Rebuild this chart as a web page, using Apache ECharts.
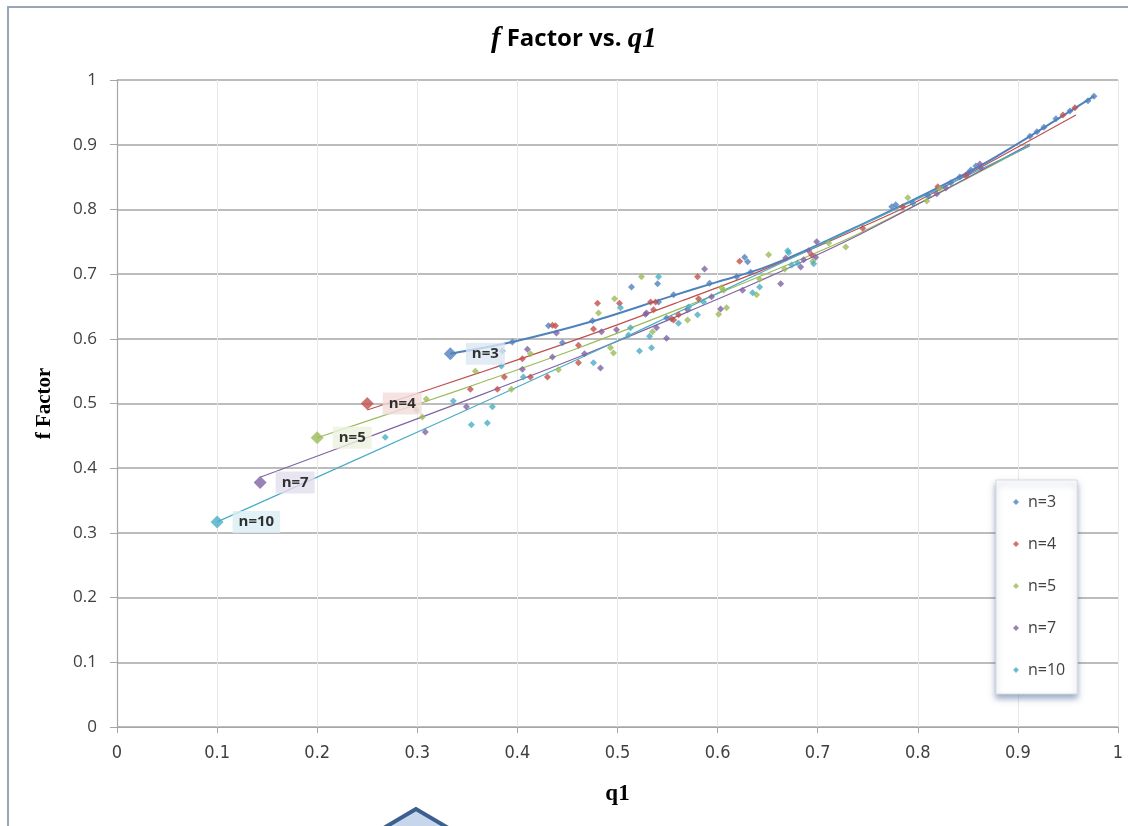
<!DOCTYPE html>
<html>
<head>
<meta charset="utf-8">
<title>f Factor vs. q1</title>
<script src="https://cdn.jsdelivr.net/npm/echarts@6/dist/echarts.min.js"></script>
<style>
  html, body { margin: 0; padding: 0; background: #fff; }
  #chart { width: 1128px; height: 826px; }
</style>
</head>
<body>
<div id="chart"></div>
<script>
// series names (legend order)
const seriesNames = ['n=3', 'n=4', 'n=5', 'n=7', 'n=10'];

// tick labels
const xTickLabels = ['0', '0.1', '0.2', '0.3', '0.4', '0.5', '0.6', '0.7', '0.8', '0.9', '1'];
const yTickLabels = ['0', '0.1', '0.2', '0.3', '0.4', '0.5', '0.6', '0.7', '0.8', '0.9', '1'];

// scatter points [q1, f]
const pointsN3 = [
  [0.385, 0.581], [0.395, 0.595], [0.431, 0.620], [0.445, 0.594], [0.475, 0.628],
  [0.514, 0.680], [0.540, 0.685], [0.541, 0.657], [0.549, 0.632], [0.556, 0.668],
  [0.592, 0.686], [0.619, 0.696], [0.627, 0.726], [0.630, 0.719], [0.633, 0.703],
  [0.774, 0.804], [0.778, 0.807], [0.795, 0.810], [0.810, 0.821], [0.833, 0.841],
  [0.842, 0.850], [0.853, 0.861], [0.858, 0.867], [0.912, 0.913], [0.919, 0.920],
  [0.926, 0.927], [0.938, 0.940], [0.952, 0.952], [0.970, 0.968], [0.976, 0.975]
];
const pointsN4 = [
  [0.353, 0.522], [0.380, 0.522], [0.387, 0.541], [0.405, 0.569], [0.413, 0.541],
  [0.430, 0.541], [0.435, 0.621], [0.438, 0.620], [0.461, 0.590], [0.461, 0.563],
  [0.476, 0.615], [0.480, 0.655], [0.502, 0.655], [0.533, 0.657], [0.536, 0.645],
  [0.538, 0.657], [0.554, 0.631], [0.556, 0.629], [0.561, 0.637], [0.580, 0.696],
  [0.581, 0.662], [0.622, 0.720], [0.694, 0.730], [0.745, 0.771], [0.785, 0.804],
  [0.820, 0.835], [0.848, 0.852], [0.945, 0.946], [0.957, 0.957]
];
const pointsN5 = [
  [0.299, 0.490], [0.305, 0.479], [0.309, 0.507], [0.358, 0.550], [0.394, 0.522],
  [0.413, 0.577], [0.441, 0.552], [0.481, 0.640], [0.493, 0.586], [0.496, 0.578],
  [0.497, 0.662], [0.524, 0.696], [0.535, 0.611], [0.570, 0.629], [0.601, 0.638],
  [0.604, 0.679], [0.606, 0.675], [0.609, 0.648], [0.639, 0.668], [0.642, 0.692],
  [0.651, 0.730], [0.667, 0.708], [0.695, 0.720], [0.711, 0.748], [0.728, 0.742],
  [0.790, 0.818], [0.809, 0.813], [0.822, 0.832]
];
const pointsN7 = [
  [0.308, 0.456], [0.349, 0.495], [0.405, 0.553], [0.410, 0.584], [0.435, 0.572],
  [0.439, 0.609], [0.467, 0.577], [0.483, 0.555], [0.484, 0.611], [0.499, 0.614],
  [0.528, 0.638], [0.529, 0.640], [0.539, 0.617], [0.549, 0.601], [0.570, 0.645],
  [0.587, 0.708], [0.594, 0.665], [0.603, 0.646], [0.625, 0.675], [0.663, 0.685],
  [0.668, 0.725], [0.683, 0.711], [0.686, 0.722], [0.691, 0.736], [0.698, 0.726],
  [0.699, 0.750], [0.819, 0.824], [0.828, 0.833], [0.850, 0.856], [0.862, 0.870],
  [0.863, 0.864]
];
const pointsN10 = [
  [0.268, 0.448], [0.336, 0.504], [0.354, 0.467], [0.370, 0.470], [0.375, 0.495],
  [0.384, 0.558], [0.406, 0.541], [0.476, 0.563], [0.503, 0.648], [0.511, 0.606],
  [0.513, 0.617], [0.522, 0.581], [0.532, 0.604], [0.534, 0.586], [0.541, 0.696],
  [0.561, 0.624], [0.571, 0.649], [0.580, 0.637], [0.586, 0.657], [0.635, 0.671],
  [0.642, 0.680], [0.670, 0.736], [0.671, 0.733], [0.674, 0.714], [0.680, 0.717],
  [0.696, 0.716]
];

// trend lines, points
const trendN3 = [[0.333, 0.577], [0.395, 0.595], [0.475, 0.627], [0.550, 0.664], [0.600, 0.688],
  [0.643, 0.708], [0.683, 0.733], [0.743, 0.776], [0.800, 0.818], [0.863, 0.868], [0.912, 0.913], [0.976, 0.975]];
const trendN4 = [[0.250, 0.490], [0.363, 0.548], [0.463, 0.601], [0.563, 0.658], [0.643, 0.705],
  [0.743, 0.772], [0.800, 0.813], [0.958, 0.946]];
const trendN5 = [[0.200, 0.447], [0.306, 0.502], [0.363, 0.532], [0.463, 0.587], [0.563, 0.647],
  [0.643, 0.697], [0.743, 0.764], [0.912, 0.899]];
const trendN7 = [[0.143, 0.386], [0.263, 0.455], [0.363, 0.513], [0.463, 0.573], [0.563, 0.637],
  [0.643, 0.690], [0.743, 0.762], [0.912, 0.901]];
const trendN10 = [[0.100, 0.317], [0.240, 0.414], [0.395, 0.522], [0.496, 0.594], [0.563, 0.643],
  [0.643, 0.702], [0.743, 0.775], [0.912, 0.898]];

// highlighted start point of each curve
const startPoints = [[0.333, 0.577], [0.250, 0.500], [0.200, 0.447], [0.143, 0.378], [0.100, 0.317]];

const colors = ['#4F81BD', '#C0504D', '#9BBB59', '#8064A2', '#4BACC6'];
const labelBgs = ['#DCE6F2', '#F2DCDB', '#EBF1DE', '#E4DFEC', '#DAEEF3'];

const pointSets = [pointsN3, pointsN4, pointsN5, pointsN7, pointsN10];
const trendSets = [trendN3, trendN4, trendN5, trendN7, trendN10];

const chart = echarts.init(document.getElementById('chart'));

const series = [];
seriesNames.forEach((name, i) => {
  series.push({
    name: 'trend ' + name,
    type: 'line',
    data: trendSets[i],
    smooth: 0.3,
    showSymbol: false,
    silent: true,
    z: 2,
    lineStyle: { color: colors[i], width: i === 0 ? 2 : 1.2 }
  });
});
seriesNames.forEach((name, i) => {
  series.push({
    name: name,
    type: 'scatter',
    data: pointSets[i],
    symbol: 'diamond',
    symbolSize: 7,
    z: 3,
    itemStyle: { color: colors[i] }
  });
});
seriesNames.forEach((name, i) => {
  series.push({
    name: 'start ' + name,
    type: 'scatter',
    data: [startPoints[i]],
    symbol: 'diamond',
    symbolSize: 13,
    z: 4,
    itemStyle: { color: colors[i] },
    label: {
      show: true,
      position: 'right',
      distance: 9,
      formatter: name,
      color: '#000',
      fontSize: 15,
      fontWeight: 'bold',
      fontFamily: 'Open Sans, sans-serif',
      backgroundColor: labelBgs[i],
      padding: [4, 6, 3, 6]
    }
  });
});

const option = {
  animation: false,
  backgroundColor: '#fff',
  title: {
    left: 486,
    top: 20,
    text: '{f|f}{b|Factor vs. }{q|q1}',
    textStyle: {
      rich: {
        f: { fontFamily: 'Liberation Serif', fontStyle: 'italic', fontSize: 29, color: '#000', padding: [0, 6, 0, 0] },
        b: { fontFamily: 'Open Sans', fontWeight: 'bold', fontSize: 24, color: '#000' },
        q: { fontFamily: 'Liberation Serif', fontStyle: 'italic', fontWeight: 'bold', fontSize: 29, color: '#000' }
      }
    }
  },
  grid: { left: 117, right: 10, top: 80, bottom: 99 },
  legend: {
    data: seriesNames,
    orient: 'vertical',
    left: 996,
    top: 480,
    width: 91,
    padding: [12, 12, 14, 17],
    itemGap: 22,
    itemWidth: 6,
    itemHeight: 6,
    icon: 'diamond',
    backgroundColor: '#fff',
    borderColor: '#d9d9d9',
    borderWidth: 1,
    shadowColor: 'rgba(70,100,150,0.55)',
    shadowBlur: 6,
    shadowOffsetY: 4,
    textStyle: { fontSize: 16, lineHeight: 20, color: '#404040', fontFamily: 'Open Sans, sans-serif', padding: [0, 0, 0, 4] }
  },
  xAxis: {
    type: 'value',
    min: 0,
    max: 1,
    interval: 0.1,
    name: 'q1',
    nameLocation: 'middle',
    nameGap: 56,
    nameTextStyle: { fontFamily: 'Liberation Serif', fontWeight: 'bold', fontSize: 23, color: '#000' },
    axisLine: { show: true, lineStyle: { color: '#a6a6a6', width: 1.2 } },
    axisTick: { show: true, length: 6, lineStyle: { color: '#a6a6a6' } },
    axisLabel: {
      margin: 17,
      fontSize: 18,
      color: '#404040',
      fontFamily: "'Liberation Sans Narrow', 'DejaVu Sans Condensed', sans-serif",
      formatter: v => xTickLabels[Math.round(v * 10)]
    },
    splitLine: { show: true, lineStyle: { color: '#e8e8e8', width: 1 } }
  },
  yAxis: {
    type: 'value',
    min: 0,
    max: 1,
    interval: 0.1,
    name: 'f Factor',
    nameLocation: 'middle',
    nameGap: 62,
    nameRotate: 90,
    nameTextStyle: { fontFamily: 'Liberation Serif', fontWeight: 'bold', fontSize: 21, color: '#000' },
    axisLine: { show: true, lineStyle: { color: '#a6a6a6', width: 1.2 } },
    axisTick: { show: true, length: 7, lineStyle: { color: '#a6a6a6' } },
    axisLabel: {
      margin: 20,
      fontSize: 17,
      color: '#404040',
      fontFamily: 'Open Sans, sans-serif',
      formatter: v => yTickLabels[Math.round(v * 10)]
    },
    splitLine: { show: true, lineStyle: { color: '#a6a6a6', width: 1.5 } }
  },
  graphic: [
    {
      type: 'polyline',
      shape: { points: [[8, 830], [8, 7], [1130, 7]] },
      style: { stroke: '#9aa6b6', lineWidth: 2, fill: null }
    },
    {
      type: 'polygon',
      shape: { points: [[416, 809], [377, 832], [455, 832]] },
      style: { fill: '#c6d6ec', stroke: '#3c5f8f', lineWidth: 4 }
    }
  ],
  series: series
};

chart.setOption(option);
</script>
</body>
</html>
